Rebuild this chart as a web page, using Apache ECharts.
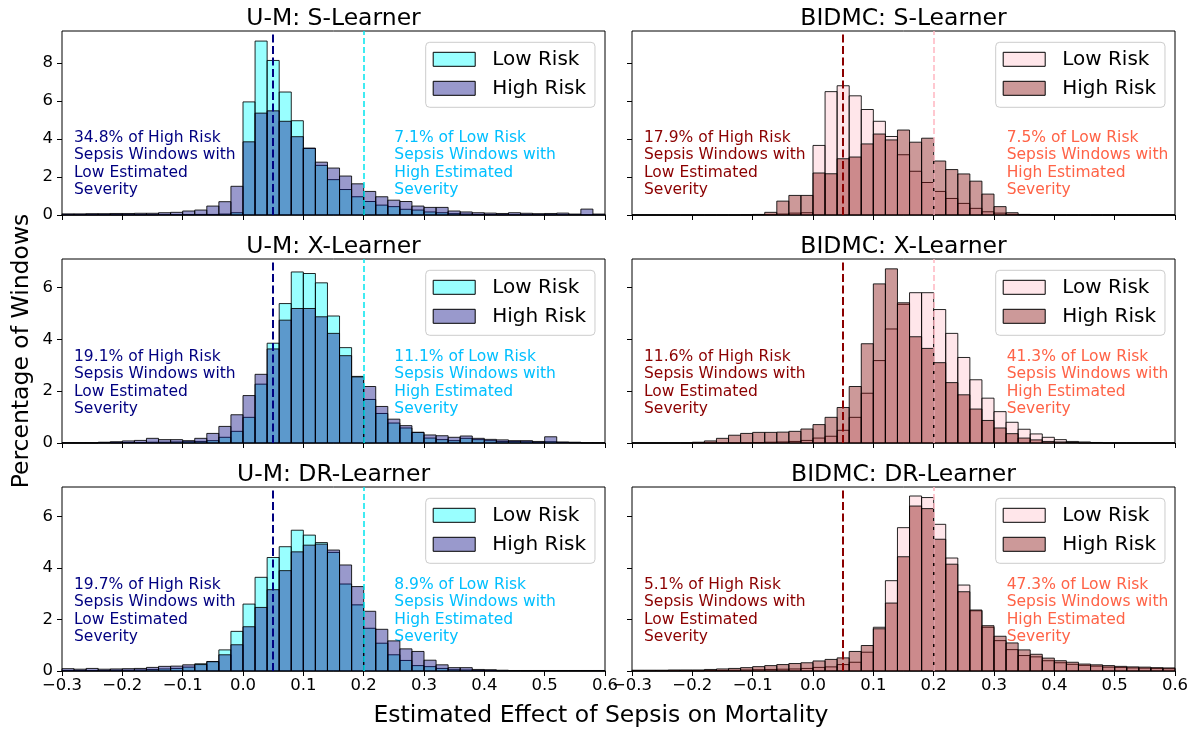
<!DOCTYPE html>
<html>
<head>
<meta charset="utf-8">
<script src="https://cdn.jsdelivr.net/npm/echarts@6/dist/echarts.min.js"></script>
<style>html,body{margin:0;padding:0;background:#fff;}#c{width:1192px;height:729px;}</style>
</head>
<body>
<div id="c"></div>
<script>
// ---------------- DATA (density per 0.02-wide bin, bins from -0.3 to 0.6) ----------------
const BIN_START = -0.3;
const BIN_WIDTH = 0.02;
const TICKS_X = [-0.3, -0.2, -0.1, 0, 0.1, 0.2, 0.3, 0.4, 0.5, 0.6];
const TICKS_Y = [[0, 2, 4, 6, 8], [0, 2, 4, 6], [0, 2, 4, 6]];
const SERIES_NAMES = ['Low Risk', 'High Risk'];
const TITLES = ['U-M: S-Learner', 'BIDMC: S-Learner', 'U-M: X-Learner', 'BIDMC: X-Learner', 'U-M: DR-Learner', 'BIDMC: DR-Learner'];
const THRESHOLDS = [0.05, 0.2];

const umS_low  = [0.01,0.01,0.01,0.01,0.01,0.01,0.01,0.01,0.02,0.02,0.02,0.03,0.03,0.05,0.12,5.95,9.15,8.13,6.47,4.96,3.50,2.61,1.86,1.34,0.96,0.71,0.52,0.44,0.30,0.26,0.16,0.12,0.07,0.05,0.03,0.02,0.01,0.01,0.01,0.01,0.01,0.01,0.01,0.01,0.01];
const umS_high = [0.06,0.06,0.07,0.07,0.08,0.08,0.09,0.09,0.12,0.14,0.21,0.26,0.47,0.70,1.51,3.85,5.36,5.48,4.93,4.12,3.52,2.78,2.47,2.05,1.64,1.24,0.96,0.78,0.71,0.47,0.40,0.40,0.21,0.16,0.12,0.10,0.08,0.12,0.09,0.07,0.08,0.10,0.05,0.31,0.05];
const bS_low   = [0,0,0,0,0,0,0,0,0,0,0.01,0.02,0.05,0.10,0.12,3.66,6.49,6.80,6.27,5.55,4.93,4.13,3.17,2.30,1.71,1.24,0.87,0.61,0.35,0.17,0.10,0.03,0.01,0,0,0,0,0,0,0,0,0,0,0,0];
const bS_high  = [0,0,0,0,0,0,0,0,0,0.01,0.03,0.14,0.73,1.03,1.03,2.21,2.17,2.96,3.05,3.74,4.26,3.95,4.47,3.83,4.04,2.84,2.39,2.16,1.78,1.10,0.44,0.12,0.03,0.02,0,0,0,0,0,0,0,0,0,0,0];
const umX_low  = [0,0,0,0.01,0.01,0.02,0.02,0.03,0.03,0.04,0.05,0.06,0.09,0.22,0.45,0.99,2.27,3.85,5.38,6.60,6.54,6.18,4.90,3.68,2.57,1.68,1.14,0.77,0.58,0.41,0.19,0.13,0.09,0.18,0.13,0.09,0.06,0.06,0.05,0.03,0.05,0.02,0.01,0,0];
const umX_high = [0.01,0.01,0.01,0.03,0.05,0.08,0.10,0.18,0.13,0.13,0.09,0.18,0.37,0.64,1.09,1.83,2.65,3.63,4.74,5.19,5.19,4.87,4.23,3.37,2.55,2.18,1.41,0.92,0.67,0.41,0.31,0.28,0.22,0.27,0.18,0.14,0.12,0.09,0.09,0.06,0.24,0.04,0.03,0.01,0.01];
const bX_low   = [0,0,0,0,0,0,0,0,0,0,0.02,0.03,0.04,0.06,0.10,0.19,0.26,0.49,0.99,1.92,3.18,4.40,5.35,5.80,5.80,5.15,4.23,3.30,2.44,1.73,1.21,0.80,0.53,0.35,0.22,0.13,0.06,0.04,0.02,0,0,0,0,0,0];
const bX_high  = [0,0,0,0,0,0.03,0.08,0.18,0.30,0.37,0.41,0.41,0.42,0.45,0.54,0.71,0.99,1.37,2.18,3.83,6.14,6.72,5.41,4.10,3.65,3.10,2.33,1.86,1.31,0.87,0.58,0.36,0.19,0.12,0.06,0.04,0.02,0,0,0,0,0,0,0,0];
const umDR_low  = [0.02,0.02,0.02,0.02,0.03,0.03,0.04,0.06,0.08,0.10,0.15,0.28,0.37,0.82,1.54,2.60,3.64,4.41,4.83,5.47,5.28,4.99,4.61,3.38,2.57,1.66,1.08,0.63,0.41,0.21,0.17,0.10,0.05,0.04,0.02,0.02,0.01,0.01,0.01,0.01,0.01,0.01,0.01,0.01,0.01];
const umDR_high = [0.09,0.07,0.10,0.07,0.08,0.09,0.10,0.14,0.18,0.19,0.24,0.25,0.36,0.63,1.02,1.72,2.47,3.16,3.90,4.63,4.89,4.93,4.70,4.12,3.28,2.32,1.62,1.17,0.86,0.76,0.42,0.24,0.13,0.13,0.06,0.05,0.03,0.02,0.02,0.02,0.02,0.02,0.02,0.02,0.02];
const bDR_low   = [0.01,0.01,0.01,0.01,0.01,0.01,0.02,0.02,0.03,0.04,0.05,0.06,0.07,0.08,0.10,0.14,0.16,0.25,0.34,0.73,1.70,3.51,5.57,6.80,6.74,5.70,4.39,3.34,2.34,1.70,1.18,0.83,0.60,0.55,0.40,0.32,0.26,0.22,0.19,0.15,0.14,0.12,0.11,0.10,0.09];
const bDR_high  = [0.03,0.03,0.03,0.04,0.04,0.04,0.06,0.08,0.10,0.13,0.17,0.21,0.25,0.29,0.32,0.39,0.45,0.51,0.76,0.99,1.64,2.64,4.44,6.41,6.31,5.12,4.15,3.08,2.37,1.76,1.35,1.09,0.82,0.65,0.50,0.40,0.34,0.27,0.24,0.21,0.18,0.16,0.15,0.13,0.12];

const LOW_SERIES  = [umS_low, bS_low, umX_low, bX_low, umDR_low, bDR_low];
const HIGH_SERIES = [umS_high, bS_high, umX_high, bX_high, umDR_high, bDR_high];

const LEFT_NOTES  = ['34.8%', '17.9%', '19.1%', '11.6%', '19.7%', '5.1%'];
const RIGHT_NOTES = ['7.1%', '7.5%', '11.1%', '41.3%', '8.9%', '47.3%'];

// ---------------- STYLE / LAYOUT ----------------
const FONT = 'DejaVu Sans';
const COL_LEFT = [62, 632];
const COL_W = 543;
const ROW_TOP = [31, 259, 487];
const ROW_H = 184;
const ROW_YMAX = [9.68, 7.1, 7.15];
const EDGE = 'rgba(0,0,0,0.85)';
const PALETTE = [
  { low: 'rgba(0,255,255,0.4)', high: 'rgba(0,0,128,0.4)', line1: '#000080', line2: '#00e5ee', note1: '#000080', note2: '#00bfff' },
  { low: 'rgba(255,192,203,0.4)', high: 'rgba(128,0,0,0.4)', line1: '#8b0000', line2: '#ffb6c1', note1: '#8b0000', note2: '#ff6347' }
];

function toBins(arr) {
  return arr.map((v, i) => [BIN_START + i * BIN_WIDTH, BIN_START + (i + 1) * BIN_WIDTH, v]);
}
function makeRender(fill) {
  return function (params, api) {
    const a = api.coord([api.value(0), 0]);
    const b = api.coord([api.value(1), api.value(2)]);
    return {
      type: 'rect',
      shape: { x: a[0], y: b[1], width: b[0] - a[0], height: a[1] - b[1] },
      style: { fill: fill, stroke: EDGE, lineWidth: 1 }
    };
  };
}
function fmtX(v) {
  const s = Math.abs(v).toFixed(1);
  return v < -1e-9 ? '\u2212' + s : s;
}

const grids = [], xAxes = [], yAxes = [], series = [], legends = [], graphics = [];
for (let p = 0; p < 6; p++) {
  const row = Math.floor(p / 2), col = p % 2;
  const pal = PALETTE[col];
  const left = COL_LEFT[col], top = ROW_TOP[row];
  grids.push({ left: left, top: top, width: COL_W, height: ROW_H, show: true, borderColor: '#000', borderWidth: 1, backgroundColor: 'transparent' });
  xAxes.push({
    type: 'value', gridIndex: p, min: -0.3, max: 0.6, position: 'bottom',
    axisLine: { show: false, onZero: false },
    axisTick: { show: true, inside: false, length: 5, lineStyle: { color: '#000', width: 1 }, customValues: TICKS_X },
    axisLabel: { show: row === 2, customValues: TICKS_X, formatter: fmtX, fontFamily: FONT, fontSize: 16.5, color: '#000', margin: 6 },
    splitLine: { show: false }
  });
  yAxes.push({
    type: 'value', gridIndex: p, min: 0, max: ROW_YMAX[row], position: 'left',
    axisLine: { show: false, onZero: false },
    axisTick: { show: true, inside: false, length: 5, lineStyle: { color: '#000', width: 1 }, customValues: TICKS_Y[row] },
    axisLabel: { show: col === 0, customValues: TICKS_Y[row], fontFamily: FONT, fontSize: 16.5, color: '#000', margin: 9 },
    splitLine: { show: false }
  });
  series.push({
    type: 'custom', name: SERIES_NAMES[0], xAxisIndex: p, yAxisIndex: p,
    renderItem: makeRender(pal.low), data: toBins(LOW_SERIES[p]),
    encode: { x: [0, 1], y: 2 }, itemStyle: { color: pal.low, borderColor: '#000', borderWidth: 1 }, silent: true
  });
  series.push({
    type: 'custom', name: SERIES_NAMES[1], xAxisIndex: p, yAxisIndex: p,
    renderItem: makeRender(pal.high), data: toBins(HIGH_SERIES[p]),
    encode: { x: [0, 1], y: 2 }, itemStyle: { color: pal.high, borderColor: '#000', borderWidth: 1 }, silent: true,
    markLine: {
      silent: true, symbol: 'none', animation: false, label: { show: false },
      data: [
        { xAxis: THRESHOLDS[0], lineStyle: { color: pal.line1, width: 2, type: [8, 3.5] } },
        { xAxis: THRESHOLDS[1], lineStyle: { color: pal.line2, width: 1.5, type: [6, 3] } }
      ]
    }
  });
  legends.push({
    orient: 'vertical', left: left + 363.7, top: top + 11.3,
    padding: [7, 9, 9, 7], itemGap: 9, itemWidth: 42, itemHeight: 14,
    backgroundColor: 'rgba(255,255,255,0.8)', borderColor: '#cccccc', borderWidth: 1, borderRadius: 4,
    selectedMode: false,
    textStyle: { fontFamily: FONT, fontSize: 20, color: '#000', lineHeight: 20, padding: [0, 0, 0, 12] },
    data: [
      { name: SERIES_NAMES[0], icon: 'rect', itemStyle: { color: pal.low, borderColor: '#000', borderWidth: 1 } },
      { name: SERIES_NAMES[1], icon: 'rect', itemStyle: { color: pal.high, borderColor: '#000', borderWidth: 1 } }
    ]
  });
  // title
  graphics.push({ type: 'text', x: left + COL_W / 2, y: top - 12.5, style: { text: TITLES[p], font: '23.5px "' + FONT + '"', fill: '#000', textAlign: 'center', textVerticalAlign: 'middle' } });
  // annotations
  const noteTop = top + (row === 0 ? 98.5 : 89.5);
  graphics.push({ type: 'text', x: left + 12, y: noteTop, style: {
    text: LEFT_NOTES[p] + ' of High Risk\nSepsis Windows with\nLow Estimated\nSeverity',
    font: '15.5px "' + FONT + '"', lineHeight: 17.3, fill: pal.note1, textAlign: 'left', textVerticalAlign: 'top' } });
  graphics.push({ type: 'text', x: left + (col === 0 ? 332.3 : 374.7), y: noteTop, style: {
    text: RIGHT_NOTES[p] + ' of Low Risk\nSepsis Windows with\nHigh Estimated\nSeverity',
    font: '15.5px "' + FONT + '"', lineHeight: 17.3, fill: pal.note2, textAlign: 'left', textVerticalAlign: 'top' } });
}
graphics.push({ type: 'text', x: 22, y: 351, rotation: Math.PI / 2, style: { text: 'Percentage of Windows', font: '23.5px "' + FONT + '"', fill: '#000', textAlign: 'center', textVerticalAlign: 'middle' } });
graphics.push({ type: 'text', x: 601, y: 716, style: { text: 'Estimated Effect of Sepsis on Mortality', font: '23.5px "' + FONT + '"', fill: '#000', textAlign: 'center', textVerticalAlign: 'middle' } });

const chart = echarts.init(document.getElementById('c'), null, { renderer: 'canvas' });
chart.setOption({
  animation: false,
  backgroundColor: '#fff',
  grid: grids, xAxis: xAxes, yAxis: yAxes, series: series, legend: legends,
  graphic: graphics
});
</script>
</body>
</html>
